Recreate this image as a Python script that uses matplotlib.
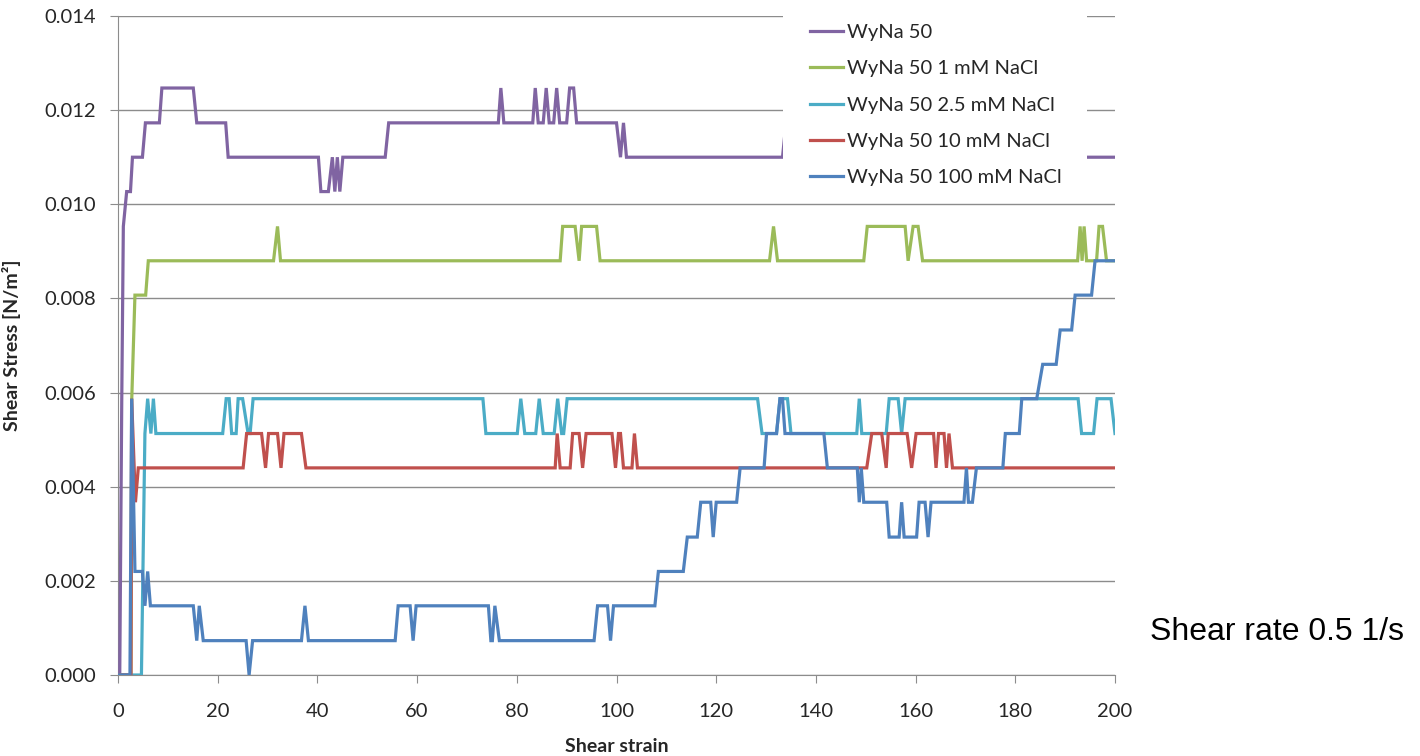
import matplotlib
matplotlib.use("Agg")
import matplotlib.pyplot as plt
from matplotlib.patches import Rectangle

plt.rcParams['font.family'] = ['Lato', 'DejaVu Sans']

# stress levels (N/m²), instrument steps of ~0.00073
# --- WyNa 50
x_pure = [0.35, 0.75, 1.07, 1.74, 2.5, 2.9, 4.9, 5.5, 8.3, 8.8, 15.1, 15.8, 21.6, 22.1,
          40.2, 40.7, 42.2, 43.0, 43.5, 44.0, 44.5, 45.1, 53.6, 54.3, 76.3, 76.8, 77.4,
          83.2, 83.7, 84.3, 85.3, 85.9, 86.5, 87.4, 88.0, 88.6, 90.0, 90.6, 91.4, 92.0,
          100.0, 100.8, 101.4, 102.0, 133.3, 134.0, 168.0, 168.7, 200]
y_pure = [0.0, 0.0058, 0.00953, 0.01027, 0.01027, 0.0110, 0.0110, 0.01173, 0.01173, 0.01247,
          0.01247, 0.01173, 0.01173, 0.0110, 0.0110, 0.01027, 0.01027, 0.0110, 0.01027, 0.0110,
          0.01027, 0.0110, 0.0110, 0.01173, 0.01173, 0.01247, 0.01173, 0.01173, 0.01247, 0.01173,
          0.01173, 0.01247, 0.01173, 0.01173, 0.01247, 0.01173, 0.01173, 0.01247, 0.01247,
          0.01173, 0.01173, 0.0110, 0.01173, 0.0110, 0.0110, 0.01173, 0.01173, 0.0110, 0.0110]

# --- WyNa 50 1 mM NaCl
x_1mm = [0, 2.6, 2.74, 3.4, 5.55, 6.08, 31.2, 32.0, 32.6, 88.7, 89.2, 91.7, 92.5, 93.0,
         96.0, 96.7, 130.7, 131.5, 132.3, 149.6, 150.3, 157.9, 158.5, 159.5, 160.5, 161.4,
         192.5, 193.0, 193.4, 193.8, 194.3, 196.3, 196.8, 197.5, 198.3, 200]
y_1mm = [0.0, 0.0, 0.0058, 0.00807, 0.00807, 0.0088, 0.0088, 0.00953, 0.0088, 0.0088,
         0.00953, 0.00953, 0.0088, 0.00953, 0.00953, 0.0088, 0.0088, 0.00953, 0.0088, 0.0088,
         0.00953, 0.00953, 0.0088, 0.00953, 0.00953, 0.0088, 0.0088, 0.00953, 0.0088, 0.00953,
         0.0088, 0.0088, 0.00953, 0.00953, 0.0088, 0.0088]

# --- WyNa 50 2.5 mM NaCl
x_25mm = [0, 4.7, 5.4, 5.95, 6.6, 7.1, 7.6, 21.0, 21.7, 22.3, 22.8, 23.7, 24.1, 25.0, 26.1,
          26.5, 27.1, 73.2, 73.8, 80.1, 80.8, 81.6, 83.8, 84.5, 85.3, 87.5, 88.2, 89.0, 89.4,
          90.1, 128.3, 129.2, 132.1, 132.8, 134.3, 135.0, 148.2, 148.7, 149.2, 154.1, 154.7,
          156.5, 157.2, 157.9, 192.6, 193.3, 195.7, 196.4, 199.2, 200]
y_25mm = [0.0, 0.0, 0.00513, 0.00587, 0.00513, 0.00587, 0.00513, 0.00513, 0.00587, 0.00587,
          0.00513, 0.00513, 0.00587, 0.00587, 0.00513, 0.00513, 0.00587, 0.00587, 0.00513,
          0.00513, 0.00587, 0.00513, 0.00513, 0.00587, 0.00513, 0.00513, 0.00587, 0.00513,
          0.00513, 0.00587, 0.00587, 0.00513, 0.00513, 0.00587, 0.00587, 0.00513, 0.00513,
          0.00587, 0.00513, 0.00513, 0.00587, 0.00587, 0.00513, 0.00587, 0.00587, 0.00513,
          0.00513, 0.00587, 0.00587, 0.00513]

# --- WyNa 50 10 mM NaCl
x_10mm = [0, 2.6, 2.74, 3.5, 4.07, 25.1, 25.8, 28.8, 29.6, 30.2, 32.0, 32.7, 33.3, 36.8, 37.7,
          87.7, 88.1, 88.7, 90.7, 91.2, 92.5, 93.2, 93.9, 99.1, 99.8, 100.4, 100.8, 101.4,
          103.1, 103.6, 104.2, 150.2, 151.2, 153.2, 154.1, 154.5, 158.3, 159.2, 160.1, 163.6,
          164.1, 164.6, 165.7, 166.2, 166.7, 167.4, 200]
y_10mm = [0.0, 0.0, 0.00587, 0.00367, 0.0044, 0.0044, 0.00513, 0.00513, 0.0044, 0.00513,
          0.00513, 0.0044, 0.00513, 0.00513, 0.0044, 0.0044, 0.00513, 0.0044, 0.0044, 0.00513,
          0.00513, 0.0044, 0.00513, 0.00513, 0.0044, 0.00513, 0.00513, 0.0044, 0.0044, 0.00513,
          0.0044, 0.0044, 0.00513, 0.00513, 0.0044, 0.00513, 0.00513, 0.0044, 0.00513, 0.00513,
          0.0044, 0.00513, 0.00513, 0.0044, 0.00513, 0.0044, 0.0044]

# --- WyNa 50 100 mM NaCl
x_100mm = [0, 2.4, 2.74, 3.4, 4.9, 5.4, 5.95, 6.5, 15.1, 15.8, 16.3, 17.1, 25.7, 26.3, 27.0,
           36.8, 37.5, 38.2, 55.6, 56.2, 58.6, 59.2, 59.8, 74.3, 74.8, 75.1, 75.6, 76.5, 95.5,
           96.2, 98.2, 98.8, 99.4, 107.7, 108.4, 113.4, 114.2, 116.2, 116.9, 118.9, 119.4,
           120.0, 124.1, 124.8, 129.6, 130.1, 132.1, 132.8, 133.3, 133.8, 141.6, 142.3, 148.3,
           148.7, 149.1, 149.6, 154.2, 154.7, 156.7, 157.2, 157.7, 160.2, 160.7, 161.9, 162.5,
           163.1, 169.7, 170.2, 170.6, 171.4, 172.2, 177.5, 178.0, 180.8, 181.3, 184.3, 185.5,
           188.2, 189.0, 191.3, 192.0, 195.3, 196.0, 200]
y_100mm = [0.0, 0.0, 0.00587, 0.0022, 0.0022, 0.00147, 0.0022, 0.00147, 0.00147, 0.00073,
           0.00147, 0.00073, 0.00073, 0.0, 0.00073, 0.00073, 0.00147, 0.00073, 0.00073, 0.00147,
           0.00147, 0.00073, 0.00147, 0.00147, 0.00073, 0.00073, 0.00147, 0.00073, 0.00073,
           0.00147, 0.00147, 0.00073, 0.00147, 0.00147, 0.0022, 0.0022, 0.00293, 0.00293,
           0.00367, 0.00367, 0.00293, 0.00367, 0.00367, 0.0044, 0.0044, 0.00513, 0.00513,
           0.00587, 0.00587, 0.00513, 0.00513, 0.0044, 0.0044, 0.00367, 0.0044, 0.00367,
           0.00367, 0.00293, 0.00293, 0.00367, 0.00293, 0.00293, 0.00367, 0.00367, 0.00293,
           0.00367, 0.00367, 0.0044, 0.00367, 0.00367, 0.0044, 0.0044, 0.00513, 0.00513,
           0.00587, 0.00587, 0.0066, 0.0066, 0.00733, 0.00733, 0.00807, 0.00807, 0.0088, 0.0088]

labels = ['WyNa 50', 'WyNa 50 1 mM NaCl', 'WyNa 50 2.5 mM NaCl',
          'WyNa 50 10 mM NaCl', 'WyNa 50 100 mM NaCl']
colors = ['#8064A2', '#9BBB59', '#4BACC6', '#C0504D', '#4F81BD']

fig = plt.figure(figsize=(14.2, 7.56), dpi=100)
ax = fig.add_axes([118/1420, 1 - 675/756, 997/1420, 659/756])

series = [(x_pure, y_pure), (x_1mm, y_1mm), (x_25mm, y_25mm),
          (x_10mm, y_10mm), (x_100mm, y_100mm)]
for (xs, ys), lab, c in zip(series, labels, colors):
    ax.plot(xs, ys, color=c, lw=2.3, label=lab, solid_joinstyle='miter', zorder=3)

ax.set_xlim(0, 200)
ax.set_ylim(0, 0.014)
ax.set_xticks(range(0, 201, 20))
ax.set_yticks([i * 0.002 for i in range(8)])
ax.set_yticklabels(['%.3f' % (i * 0.002) for i in range(8)])
ax.yaxis.grid(True, color='#8c8c8c', lw=1)
ax.set_axisbelow(True)
for s in ['top', 'right']:
    ax.spines[s].set_visible(False)
for s in ['left', 'bottom']:
    ax.spines[s].set_color('#8c8c8c')
ax.tick_params(direction='out', length=6, color='#8c8c8c', labelsize=14.5,
               labelcolor='#262626')
ax.tick_params(axis='y', pad=10)
ax.tick_params(axis='x', pad=14)

ax.set_xlabel('Shear strain', fontsize=14, fontweight='bold', color='#262626')
ax.xaxis.set_label_coords(0.5, -0.095)
ax.set_ylabel('Shear Stress [N/m²]', fontsize=14, fontweight='bold', color='#262626')
ax.yaxis.set_label_coords(-0.097, 0.5)

# white legend area that hides the lines behind it
ax.add_patch(Rectangle((783/1420, 1 - 200/756), 304/1420, 186/756, transform=fig.transFigure,
                       facecolor='white', edgecolor='none', zorder=5, clip_on=False))
leg = ax.legend(loc='upper left', bbox_to_anchor=(810/1420, 1 - 24/756),
                bbox_transform=fig.transFigure, frameon=False, fontsize=14.5,
                handlelength=1.65, handletextpad=0.2, labelspacing=0.95,
                borderaxespad=0, borderpad=0)
leg.set_zorder(6)
for t in leg.get_texts():
    t.set_color('#262626')

fig.text(1150/1420, 1 - 632/756, 'Shear rate 0.5 1/s', fontsize=23,
         family='Liberation Sans', va='center', ha='left', color='black')

fig.savefig('out.png', dpi=100)
